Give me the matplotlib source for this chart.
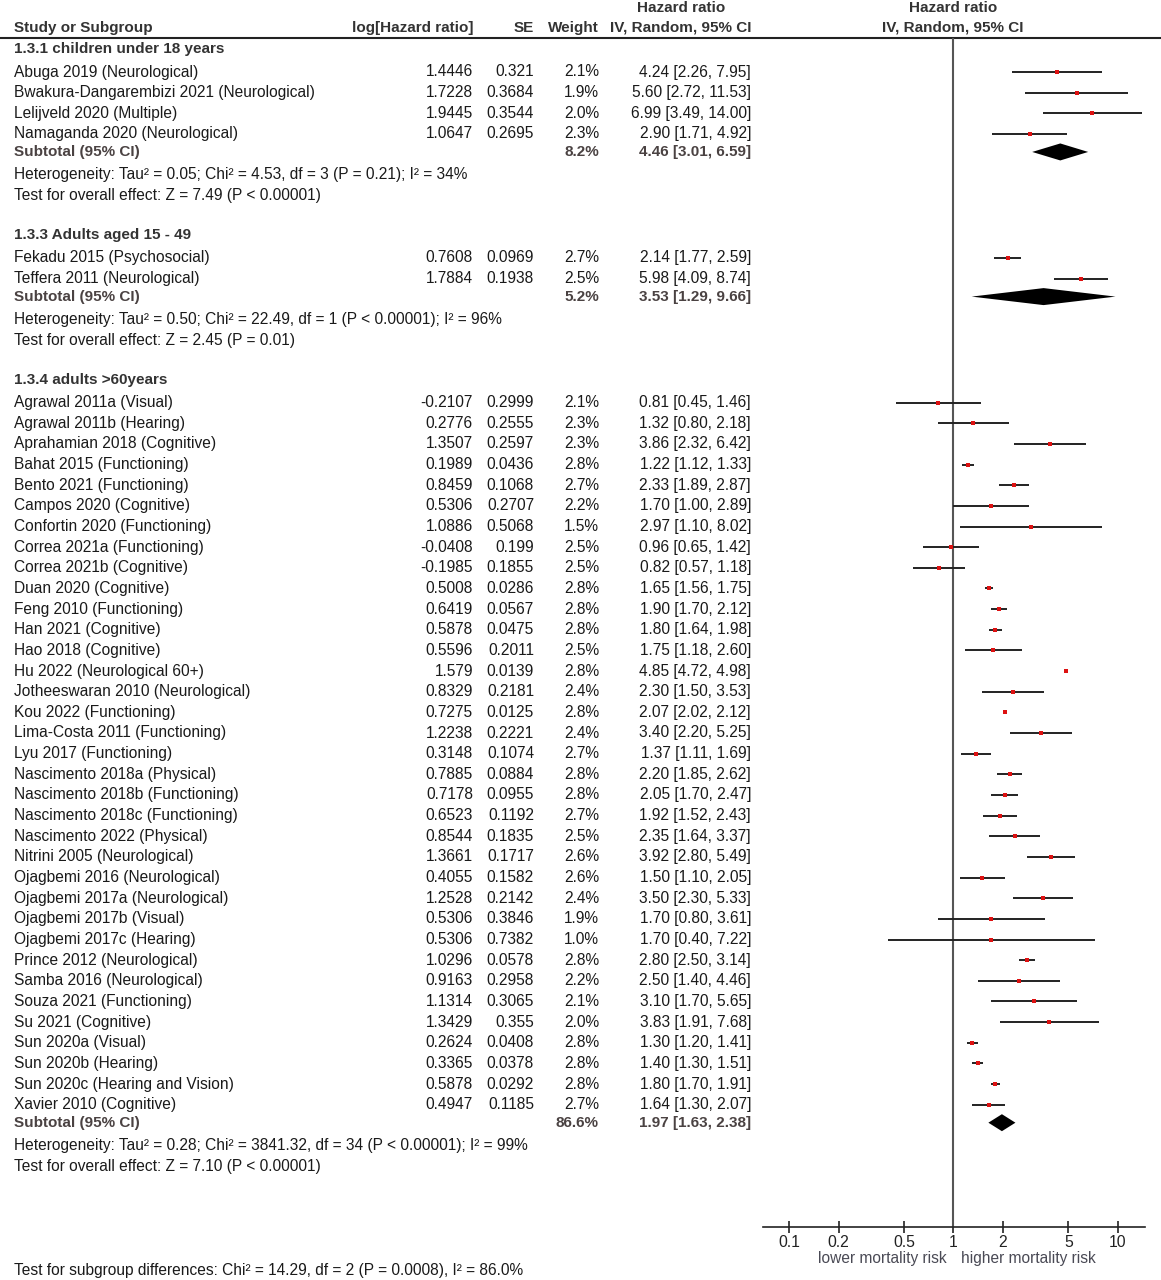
import matplotlib.pyplot as plt
import numpy as np

plt.rcParams['font.family'] = ['Liberation Sans', 'DejaVu Sans']

# ---- data ----
group_titles = ["1.3.1 children under 18 years",
                "1.3.3 Adults aged 15 - 49",
                "1.3.4 adults >60years"]

studies_g1 = ["Abuga 2019 (Neurological)",
              "Bwakura-Dangarembizi 2021 (Neurological)",
              "Lelijveld 2020 (Multiple)",
              "Namaganda 2020 (Neurological)"]
loghr_g1 = [1.4446, 1.7228, 1.9445, 1.0647]
se_g1 = [0.321, 0.3684, 0.3544, 0.2695]
weight_g1 = [2.1, 1.9, 2.0, 2.3]
hr_g1 = [4.24, 5.60, 6.99, 2.90]
lo_g1 = [2.26, 2.72, 3.49, 1.71]
hi_g1 = [7.95, 11.53, 14.00, 4.92]

studies_g2 = ["Fekadu 2015 (Psychosocial)",
              "Teffera 2011 (Neurological)"]
loghr_g2 = [0.7608, 1.7884]
se_g2 = [0.0969, 0.1938]
weight_g2 = [2.7, 2.5]
hr_g2 = [2.14, 5.98]
lo_g2 = [1.77, 4.09]
hi_g2 = [2.59, 8.74]

studies_g3 = ["Agrawal 2011a (Visual)", "Agrawal 2011b (Hearing)",
              "Aprahamian 2018 (Cognitive)", "Bahat 2015 (Functioning)",
              "Bento 2021 (Functioning)", "Campos 2020 (Cognitive)",
              "Confortin 2020 (Functioning)", "Correa 2021a (Functioning)",
              "Correa 2021b (Cognitive)", "Duan 2020 (Cognitive)",
              "Feng 2010 (Functioning)", "Han 2021 (Cognitive)",
              "Hao 2018 (Cognitive)", "Hu 2022 (Neurological 60+)",
              "Jotheeswaran 2010 (Neurological)", "Kou 2022 (Functioning)",
              "Lima-Costa 2011 (Functioning)", "Lyu 2017 (Functioning)",
              "Nascimento 2018a (Physical)", "Nascimento 2018b (Functioning)",
              "Nascimento 2018c (Functioning)", "Nascimento 2022 (Physical)",
              "Nitrini 2005 (Neurological)", "Ojagbemi 2016 (Neurological)",
              "Ojagbemi 2017a (Neurological)", "Ojagbemi 2017b (Visual)",
              "Ojagbemi 2017c (Hearing)", "Prince 2012 (Neurological)",
              "Samba 2016 (Neurological)", "Souza 2021 (Functioning)",
              "Su 2021 (Cognitive)", "Sun 2020a (Visual)",
              "Sun 2020b (Hearing)", "Sun 2020c (Hearing and Vision)",
              "Xavier 2010 (Cognitive)"]
loghr_g3 = [-0.2107, 0.2776, 1.3507, 0.1989, 0.8459, 0.5306, 1.0886, -0.0408,
            -0.1985, 0.5008, 0.6419, 0.5878, 0.5596, 1.579, 0.8329, 0.7275,
            1.2238, 0.3148, 0.7885, 0.7178, 0.6523, 0.8544, 1.3661, 0.4055,
            1.2528, 0.5306, 0.5306, 1.0296, 0.9163, 1.1314, 1.3429, 0.2624,
            0.3365, 0.5878, 0.4947]
se_g3 = [0.2999, 0.2555, 0.2597, 0.0436, 0.1068, 0.2707, 0.5068, 0.199,
         0.1855, 0.0286, 0.0567, 0.0475, 0.2011, 0.0139, 0.2181, 0.0125,
         0.2221, 0.1074, 0.0884, 0.0955, 0.1192, 0.1835, 0.1717, 0.1582,
         0.2142, 0.3846, 0.7382, 0.0578, 0.2958, 0.3065, 0.355, 0.0408,
         0.0378, 0.0292, 0.1185]
weight_g3 = [2.1, 2.3, 2.3, 2.8, 2.7, 2.2, 1.5, 2.5, 2.5, 2.8, 2.8, 2.8, 2.5,
             2.8, 2.4, 2.8, 2.4, 2.7, 2.8, 2.8, 2.7, 2.5, 2.6, 2.6, 2.4, 1.9,
             1.0, 2.8, 2.2, 2.1, 2.0, 2.8, 2.8, 2.8, 2.7]
hr_g3 = [0.81, 1.32, 3.86, 1.22, 2.33, 1.70, 2.97, 0.96, 0.82, 1.65, 1.90,
         1.80, 1.75, 4.85, 2.30, 2.07, 3.40, 1.37, 2.20, 2.05, 1.92, 2.35,
         3.92, 1.50, 3.50, 1.70, 1.70, 2.80, 2.50, 3.10, 3.83, 1.30, 1.40,
         1.80, 1.64]
lo_g3 = [0.45, 0.80, 2.32, 1.12, 1.89, 1.00, 1.10, 0.65, 0.57, 1.56, 1.70,
         1.64, 1.18, 4.72, 1.50, 2.02, 2.20, 1.11, 1.85, 1.70, 1.52, 1.64,
         2.80, 1.10, 2.30, 0.80, 0.40, 2.50, 1.40, 1.70, 1.91, 1.20, 1.30,
         1.70, 1.30]
hi_g3 = [1.46, 2.18, 6.42, 1.33, 2.87, 2.89, 8.02, 1.42, 1.18, 1.75, 2.12,
         1.98, 2.60, 4.98, 3.53, 2.12, 5.25, 1.69, 2.62, 2.47, 2.43, 3.37,
         5.49, 2.05, 5.33, 3.61, 7.22, 3.14, 4.46, 5.65, 7.68, 1.41, 1.51,
         1.91, 2.07]

sub_weight = [8.2, 5.2, 86.6]
sub_hr = [4.46, 3.53, 1.97]
sub_lo = [3.01, 1.29, 1.63]
sub_hi = [6.59, 9.66, 2.38]

heterogeneity = [
    "Heterogeneity: Tau\u00b2 = 0.05; Chi\u00b2 = 4.53, df = 3 (P = 0.21); I\u00b2 = 34%",
    "Heterogeneity: Tau\u00b2 = 0.50; Chi\u00b2 = 22.49, df = 1 (P < 0.00001); I\u00b2 = 96%",
    "Heterogeneity: Tau\u00b2 = 0.28; Chi\u00b2 = 3841.32, df = 34 (P < 0.00001); I\u00b2 = 99%",
]
overall = ["Test for overall effect: Z = 7.49 (P < 0.00001)",
           "Test for overall effect: Z = 2.45 (P = 0.01)",
           "Test for overall effect: Z = 7.10 (P < 0.00001)"]
subgroup_diff = ("Test for subgroup differences: Chi\u00b2 = 14.29, df = 2 "
                 "(P = 0.0008), I\u00b2 = 86.0%")

groups = [
    (studies_g1, loghr_g1, se_g1, weight_g1, hr_g1, lo_g1, hi_g1),
    (studies_g2, loghr_g2, se_g2, weight_g2, hr_g2, lo_g2, hi_g2),
    (studies_g3, loghr_g3, se_g3, weight_g3, hr_g3, lo_g3, hi_g3),
]

# ---- figure, coordinates in pixels (y downward) ----
W, H = 1161, 1280
fig = plt.figure(figsize=(W / 100, H / 100), dpi=100)
ax = fig.add_axes([0, 0, 1, 1])
ax.set_xlim(0, W)
ax.set_ylim(H, 0)
ax.axis('off')

AX_TOP, AX_BOT = 38, 1227
X_L, X_R = 763, 1145
axf = fig.add_axes([X_L / W, (H - AX_BOT) / H, (X_R - X_L) / W, (AX_BOT - AX_TOP) / H])
axf.set_xscale('log')
axf.set_xlim(0.0695, 14.6)
axf.set_ylim(AX_BOT, AX_TOP)
axf.patch.set_alpha(0)
for s in ['left', 'right', 'top']:
    axf.spines[s].set_visible(False)
axf.spines['bottom'].set_color('#222222')
axf.spines['bottom'].set_linewidth(1.2)
axf.set_yticks([])
ticks = [0.1, 0.2, 0.5, 1, 2, 5, 10]
axf.set_xticks(ticks)
axf.set_xticklabels(['0.1', '0.2', '0.5', '1', '2', '5', '10'])
axf.xaxis.set_minor_locator(plt.NullLocator())
axf.tick_params(axis='x', direction='inout', length=9, width=1.2,
                color='#222222', labelsize=11.3, labelcolor='#222222', pad=1)
axf.axvline(1, color='#555555', lw=1.5)

FS = 11.2
FB = 11.0
TXT = '#1a1a1a'
HEAD = '#333333'
SUBC = '#4a4242'
C_LOG, C_SE, C_W, C_CI = 473, 534, 599, 751

# header
ax.text(14, 28, "Study or Subgroup", fontsize=FB, fontweight='bold', color=HEAD, va='center')
ax.text(C_LOG, 28, "log[Hazard ratio]", fontsize=FB, fontweight='bold', color=HEAD, va='center', ha='right')
ax.text(C_SE, 28, "SE", fontsize=FB, fontweight='bold', color=HEAD, va='center', ha='right')
ax.text(C_W, 28, "Weight", fontsize=FB, fontweight='bold', color=HEAD, va='center', ha='right')
ax.text(681, 8, "Hazard ratio", fontsize=FB, fontweight='bold', color=HEAD, va='center', ha='center')
ax.text(681, 28, "IV, Random, 95% CI", fontsize=FB, fontweight='bold', color=HEAD, va='center', ha='center')
ax.text(953, 8, "Hazard ratio", fontsize=FB, fontweight='bold', color=HEAD, va='center', ha='center')
ax.text(953, 28, "IV, Random, 95% CI", fontsize=FB, fontweight='bold', color=HEAD, va='center', ha='center')
ax.plot([0, W], [37.5, 37.5], color='#222222', lw=1.5)

PITCH = 20.65
y = 49
for g, (names, lh, se, wt, hr, lo, hi) in enumerate(groups):
    ax.text(14, y, group_titles[g], fontsize=FB, fontweight='bold', color=HEAD, va='center')
    ys = y + 23 + PITCH * np.arange(len(names))
    for i, name in enumerate(names):
        ax.text(14, ys[i], name, fontsize=FS, color=TXT, va='center')
        ax.text(C_LOG, ys[i], str(lh[i]), fontsize=FS, color=TXT, va='center', ha='right')
        ax.text(C_SE, ys[i], str(se[i]), fontsize=FS, color=TXT, va='center', ha='right')
        ax.text(C_W, ys[i], f"{wt[i]:.1f}%", fontsize=FS, color=TXT, va='center', ha='right')
        ax.text(C_CI, ys[i], f"{hr[i]:.2f} [{lo[i]:.2f}, {hi[i]:.2f}]",
                fontsize=FS, color=TXT, va='center', ha='right')
    axf.hlines(ys, lo, hi, color='#222222', lw=1.4, clip_on=False)
    axf.plot(hr, ys, 's', color='#dd1111', ms=2.2, mew=0, clip_on=False)

    last = ys[-1]
    ysub = last + 18
    ax.text(14, ysub, "Subtotal (95% CI)", fontsize=FB, fontweight='bold', color=SUBC, va='center')
    ax.text(C_W, ysub, f"{sub_weight[g]:.1f}%", fontsize=FB, fontweight='bold',
            color=SUBC, va='center', ha='right')
    ax.text(C_CI, ysub, f"{sub_hr[g]:.2f} [{sub_lo[g]:.2f}, {sub_hi[g]:.2f}]",
            fontsize=FB, fontweight='bold', color=SUBC, va='center', ha='right')
    axf.fill([sub_lo[g], sub_hr[g], sub_hi[g], sub_hr[g]],
             [ysub, ysub - 8.5, ysub, ysub + 8.5], color='black', lw=0)

    ax.text(14, last + 41, heterogeneity[g], fontsize=FS, color=TXT, va='center')
    ax.text(14, last + 62, overall[g], fontsize=FS, color=TXT, va='center')
    y = last + 62 + 39

ax.text(14, 1270, subgroup_diff, fontsize=FS, color=TXT, va='center')
ax.text(947, 1258, "lower mortality risk", fontsize=FS, color='#4a4a55', va='center', ha='right')
ax.text(961, 1258, "higher mortality risk", fontsize=FS, color='#4a4a55', va='center', ha='left')

fig.savefig('out.png', dpi=100)
